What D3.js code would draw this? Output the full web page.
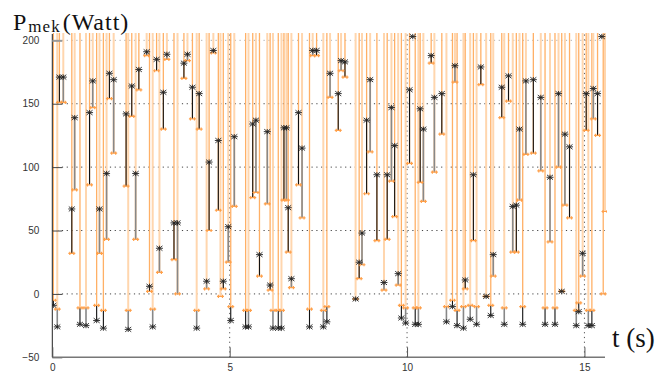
<!DOCTYPE html>
<html>
<head>
<meta charset="utf-8">
<script src="https://cdn.jsdelivr.net/npm/d3@7"></script>
<style>
  body { margin: 0; background: #fff; }
  svg { display: block; }
</style>
</head>
<body>
<svg id="chart" width="670" height="372"></svg>
<script>
// sample times (s), black asterisk values and orange marker values (Watt)
const tSample = [
  0.03, 0.14, 0.20, 0.31, 0.55, 0.63, 0.78, 0.95, 1.05, 1.14,
  1.25, 1.33, 1.44, 1.53, 1.61, 1.73, 2.08, 2.14, 2.24, 2.35,
  2.44, 2.66, 2.74, 2.83, 2.94, 3.02, 3.13, 3.23, 3.43, 3.53,
  3.71, 3.81, 3.95, 4.07, 4.14, 4.35, 4.42, 4.54, 4.68, 4.74,
  4.82, 4.96, 5.03, 5.13, 5.45, 5.53, 5.65, 5.74, 5.84, 6.06,
  6.14, 6.22, 6.37, 6.46, 6.53, 6.60, 6.65, 6.74, 6.94, 7.04,
  7.25, 7.34, 7.45, 7.64, 7.74, 7.83, 8.06, 8.14, 8.25, 8.55,
  8.65, 8.73, 8.86, 8.96, 9.15, 9.35, 9.44, 9.56, 9.65, 9.75,
  9.84, 9.96, 10.07, 10.16, 10.23, 10.32, 10.37, 10.46, 10.68, 10.77,
  10.98, 11.11, 11.28, 11.35, 11.41, 11.59, 11.64, 11.78, 11.87, 11.96,
  12.08, 12.23, 12.36, 12.43, 12.67, 12.74, 12.86, 12.98, 13.08, 13.17,
  13.26, 13.35, 13.56, 13.77, 13.89, 14.03, 14.17, 14.27, 14.36, 14.45,
  14.58, 14.77, 14.84, 14.95, 15.05, 15.11, 15.21, 15.25, 15.37, 15.49,
  15.53, 15.58
];
const pMek = [
  -9, -26, 171, 171, 67, 139, -24, -25, 143, 168,
  -21, 67, -27, 95, 174, 169, 142, -28, 164, 95,
  177, 191, 6, -26, 185, 36, 159, 189, 56, 56,
  182, 189, 163, -27, 158, 10, 104, 192, 121, null,
  10, 53, -21, 124, -26, -26, 134, 137, 31, 128,
  7, -27, -27, -27, 131, 131, 68, 12, 143, 115,
  -26, 192, 192, -26, -22, 174, 158, 184, 183, -4,
  25, 48, 137, 169, 94, 9, 94, 147, 117, 16,
  -19, -23, 161, 203, -24, -24, 146, 130, 188, 155,
  158, -22, -10, 180, -25, -27, 11, -20, 94, -24,
  179, -2, -17, 31, 163, -24, 172, 69, 70, 130,
  -24, 168, 169, 155, -24, 92, -24, 158, 2, 126,
  116, -25, -14, 32, 158, -25, -25, 162, 158, 203,
  null, null
];
const pOrange = [
  -5, -12, 151, 151, 32, 82, -11, -11, 86, 147,
  -9, 32, -13, 43, 154, 111, 85, -13, 140, 43,
  161, 188, 2, -12, 176, 17, 130, 185, 27, 0,
  170, 184, 138, -13, 130, 4, 50, 190, 66, -2,
  4, 25, -10, 69, -13, -13, 76, 80, 14, 71,
  3, -13, -13, -13, 74, 74, 33, 5, 86, 60,
  -12, 188, 188, -13, -10, 155, 129, 176, 171, -4,
  12, 23, 79, 112, 42, 3, 43, 89, 61, 7,
  -9, -11, 103, null, -11, -11, 88, 73, 182, 96,
  126, -10, -5, 167, -13, -10, 4, -9, 42, -10,
  165, -2, -9, 14, 139, -11, 152, 33, 33, 74,
  -10, 110, 111, 97, -11, 41, -11, 100, 2, 70,
  60, -13, -7, 14, 129, -13, -13, 138, 125, null,
  0, 65
];
const yTicks = [-50, 0, 50, 100, 150, 200];
const xTicks = [0, 5, 10, 15];

const samples = tSample.map((t, i) => ({ t: t, m: pMek[i], e: pOrange[i], i: i }));

const svg = d3.select('#chart');
const box = { left: 52.3, right: 605, top: 34, bottom: 357.3 };

const x = d3.scaleLinear().domain([0, 15.58]).range([box.left, box.right]);
const y = d3.scaleLinear().domain([-50, 205]).range([box.bottom, box.top]);

svg.append('defs').append('clipPath').attr('id', 'plot')
  .append('rect')
  .attr('x', box.left).attr('y', box.top - 1)
  .attr('width', box.right - box.left + 2).attr('height', box.bottom - box.top + 1);

// dotted grid
const grid = svg.append('g');
grid.selectAll('.hg')
  .data(yTicks.filter(v => v > -50))
  .enter().append('line')
  .attr('x1', box.left).attr('x2', box.right)
  .attr('y1', d => y(d)).attr('y2', d => y(d))
  .attr('stroke', d => d === 200 ? '#aaa' : '#444')
  .attr('stroke-width', 1)
  .attr('stroke-dasharray', '1.2,3.6');
grid.selectAll('.vg')
  .data(xTicks.filter(v => v > 0))
  .enter().append('line')
  .attr('x1', d => x(d)).attr('x2', d => x(d))
  .attr('y1', box.bottom).attr('y2', box.top)
  .attr('stroke', '#555')
  .attr('stroke-width', 1)
  .attr('stroke-dasharray', '1.2,3.6');

const plot = svg.append('g').attr('clip-path', 'url(#plot)');

// orange traces run from each orange marker up past the top of the axes
plot.selectAll('.oline')
  .data(samples.filter(d => d.e !== null))
  .enter().append('line')
  .attr('x1', d => x(d.t)).attr('x2', d => x(d.t))
  .attr('y1', d => y(d.e)).attr('y2', box.top - 2)
  .attr('stroke', d => d.i % 2 ? '#ffd6ae' : '#ffb066')
  .attr('stroke-width', d => d.i % 2 ? 2 : 1.3);

// black segments between asterisk and orange marker
plot.selectAll('.bline')
  .data(samples.filter(d => d.e !== null && d.m !== null))
  .enter().append('line')
  .attr('x1', d => x(d.t)).attr('x2', d => x(d.t))
  .attr('y1', d => y(d.m)).attr('y2', d => y(d.e))
  .attr('stroke', d => d.i % 2 ? '#888' : '#111')
  .attr('stroke-width', d => d.i % 2 ? 1.6 : 1.1);

// orange '+' markers
plot.selectAll('.omark')
  .data(samples.filter(d => d.e !== null))
  .enter().append('path')
  .attr('transform', d => `translate(${x(d.t)},${y(d.e)})`)
  .attr('d', 'M-3.5,0H3.5M-2,-1.6V1.6M2,-1.6V1.6')
  .attr('stroke', '#ffa04a')
  .attr('stroke-width', 1.2)
  .attr('fill', 'none');

// black asterisks
plot.selectAll('.bmark')
  .data(samples.filter(d => d.m !== null))
  .enter().append('path')
  .attr('transform', d => `translate(${x(d.t)},${y(d.m)})`)
  .attr('d', 'M-3.5,0H3.5M0,-2.6V2.6M-3,-2.4L3,2.4M-3,2.4L3,-2.4')
  .attr('stroke', '#222')
  .attr('stroke-width', 0.9)
  .attr('fill', 'none');

// axes
const yAxis = svg.append('g')
  .attr('transform', `translate(${box.left},0)`)
  .call(d3.axisLeft(y).tickValues(yTicks).tickSize(-10).tickPadding(13));
yAxis.select('.domain').attr('d', `M0,${box.top}V${box.bottom}`).attr('stroke', '#222');
yAxis.selectAll('.tick line').attr('stroke', '#444');
yAxis.selectAll('.tick').filter(d => d === 200).select('line').attr('stroke', '#999').attr('stroke-width', 2);

const xAxis = svg.append('g')
  .attr('transform', `translate(0,${box.bottom})`)
  .call(d3.axisBottom(x).tickValues(xTicks).tickSize(-10).tickPadding(13));
xAxis.select('.domain').attr('d', `M${box.left},0H${box.right}`).attr('stroke', '#777').attr('stroke-width', 1.6);
xAxis.selectAll('.tick line').attr('stroke', '#555');

svg.selectAll('.tick text')
  .attr('font-family', 'Liberation Sans, Arial, sans-serif')
  .attr('font-size', 10)
  .attr('fill', '#333');
xAxis.selectAll('.tick text').attr('dy', '0.35em').attr('y', 10);

// axis titles
const title = svg.append('text')
  .attr('x', 13).attr('y', 29.5)
  .attr('font-family', 'Liberation Serif, Times New Roman, serif')
  .attr('fill', '#111');
title.append('tspan').attr('font-size', 24).text('P');
title.append('tspan').attr('font-size', 17).attr('dx', 2).attr('dy', 2).attr('letter-spacing', 1).text('mek');
title.append('tspan').attr('font-size', 24).attr('dx', 2).attr('dy', -2).attr('letter-spacing', 1).text('(Watt)');

svg.append('text')
  .attr('x', 612).attr('y', 346.5)
  .attr('font-family', 'Liberation Serif, Times New Roman, serif')
  .attr('font-size', 27)
  .attr('fill', '#111')
  .text('t (s)');
</script>
</body>
</html>
